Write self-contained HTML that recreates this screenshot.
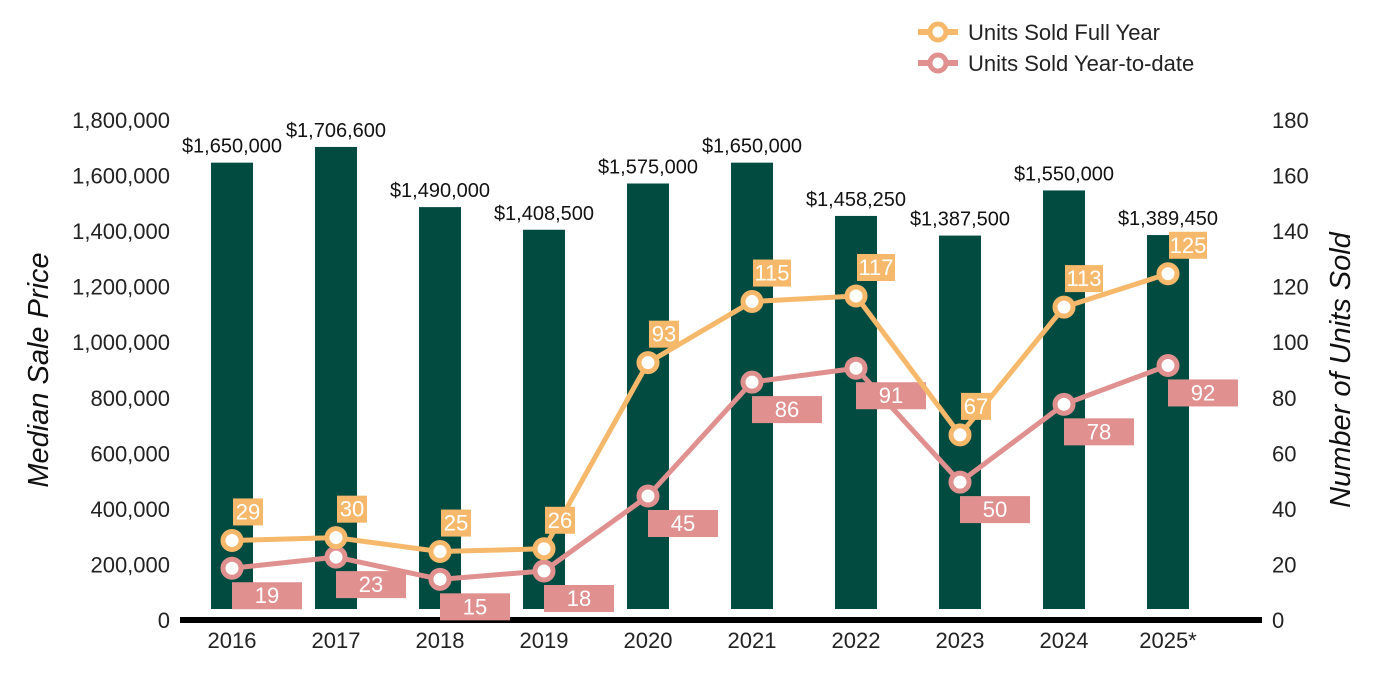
<!DOCTYPE html>
<html><head><meta charset="utf-8"><style>
body{margin:0;background:#fff;}
svg{display:block;font-family:"Liberation Sans",Arial,sans-serif;}
</style></head><body>
<svg id="c" width="1400" height="700">
<g id="legend">
 <g>
  <line x1="918" y1="32" x2="958" y2="32" stroke="#F6B96B" stroke-width="6"/>
  <circle cx="938" cy="32" r="8" fill="#fff" stroke="#F6B96B" stroke-width="5"/>
  <text x="968" y="40" font-size="22" fill="#222">Units Sold Full Year</text>
 </g>
 <g>
  <line x1="918" y1="63" x2="958" y2="63" stroke="#E0908F" stroke-width="6"/>
  <circle cx="938" cy="63" r="8" fill="#fff" stroke="#E0908F" stroke-width="5"/>
  <text x="968" y="71" font-size="22" fill="#222">Units Sold Year-to-date</text>
 </g>
</g>
<text transform="translate(48,370) rotate(-90)" text-anchor="middle" font-size="29" font-style="italic" fill="#111">Median Sale Price</text>
<text transform="translate(1350,370) rotate(-90)" text-anchor="middle" font-size="29" font-style="italic" fill="#111">Number of Units Sold</text>
</svg>
<script>
const years=["2016","2017","2018","2019","2020","2021","2022","2023","2024","2025*"];
const prices=[1650000,1706600,1490000,1408500,1575000,1650000,1458250,1387500,1550000,1389450];
const priceLabels=["$1,650,000","$1,706,600","$1,490,000","$1,408,500","$1,575,000","$1,650,000","$1,458,250","$1,387,500","$1,550,000","$1,389,450"];
const fullYear=[29,30,25,26,93,115,117,67,113,125];
const ytd=[19,23,15,18,45,86,91,50,78,92];
const leftTicks=[0,200000,400000,600000,800000,1000000,1200000,1400000,1600000,1800000];
const rightTicks=[0,20,40,60,80,100,120,140,160,180];
const NS="http://www.w3.org/2000/svg";
const svg=document.getElementById('c');
const y0=621,yTop=121;
const yL=v=>y0-(v/1800000)*(y0-yTop);
const yR=v=>y0-(v/180)*(y0-yTop);
const xC=i=>232+i*104;
function mk(t,a,p){const e=document.createElementNS(NS,t);for(const k in a)e.setAttribute(k,a[k]);(p||svg).appendChild(e);return e;}
leftTicks.forEach(v=>{const t=mk('text',{x:170,y:yL(v)+7,'text-anchor':'end','font-size':22,fill:'#222'});t.textContent=v.toLocaleString('en-US');

});
rightTicks.forEach(v=>{const t=mk('text',{x:1272,y:yR(v)+7,'font-size':22,fill:'#222'});t.textContent=v;

});
prices.forEach((p,i)=>{const top=yL(p);const r=mk('rect',{x:xC(i)-21,y:top,width:42,height:609-top,fill:'#024B41'});


const t=mk('text',{x:xC(i),y:top-10,'text-anchor':'middle','font-size':20,fill:'#111'});t.textContent=priceLabels[i];

});
const ax=mk('line',{x1:180,y1:620,x2:1262,y2:620,stroke:'#000','stroke-width':6});


years.forEach((y,i)=>{const t=mk('text',{x:xC(i),y:648,'text-anchor':'middle','font-size':22,fill:'#222'});t.textContent=y;

});
function series(vals,col,name,above){
 const pl=mk('polyline',{points:vals.map((v,i)=>xC(i)+','+yR(v)).join(' '),fill:'none',stroke:col,'stroke-width':5,'stroke-linejoin':'round'});
 
 
 vals.forEach((v,i)=>{const cx=xC(i),cy=yR(v);
  const c=mk('circle',{cx:cx,cy:cy,r:9,fill:'#fff',stroke:col,'stroke-width':5});
  
  
  const s=String(v);let bx,by,bw;
  if(above){bw=s.length>2?38:30;bx=cx+1;by=cy-42;}else{bw=70;bx=cx;by=cy+14;}
  const b=mk('rect',{x:bx,y:by,width:bw,height:27,fill:col});
  
  
  const t=mk('text',{x:bx+bw/2,y:by+21,'text-anchor':'middle','font-size':22,fill:'#fff'});t.textContent=s;
  
  });
}
series(ytd,'#E0908F','ytd',false);
series(fullYear,'#F6B96B','full-year',true);
</script>
</body></html>
